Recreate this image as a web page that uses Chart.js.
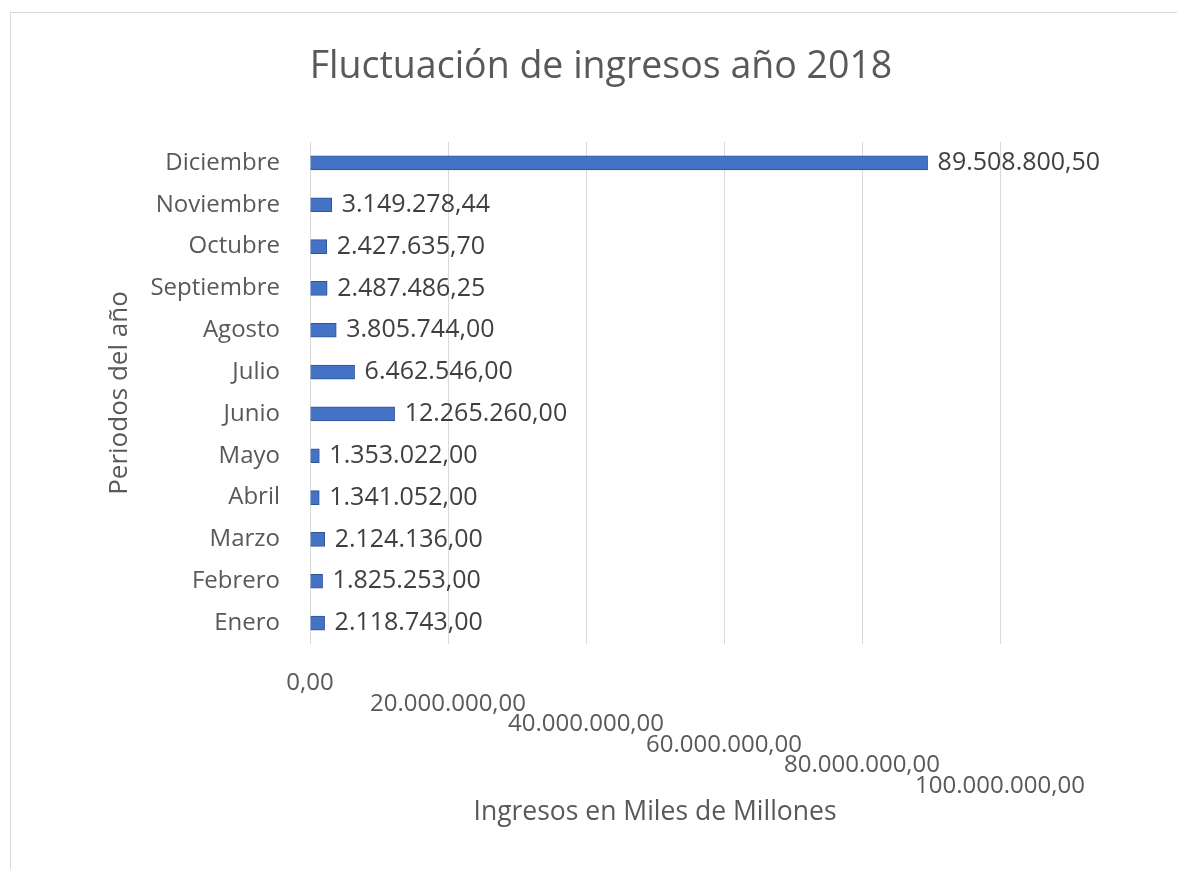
<!DOCTYPE html>
<html>
<head>
<meta charset="utf-8">
<script src="https://cdn.jsdelivr.net/npm/chart.js@4"></script>
<style>
  body { margin: 0; background: #fff; }
  #wrap { position: relative; width: 1177px; height: 869px; overflow: hidden; }
  #frame { position: absolute; left: 10px; top: 12px; right: -2px; bottom: -2px;
           border-top: 1px solid #d9d9d9; border-left: 1px solid #d9d9d9; }
  canvas { position: absolute; left: 0; top: 0; }
</style>
</head>
<body>
<div id="wrap">
  <div id="frame"></div>
  <canvas id="myChart" width="1177" height="869"></canvas>
</div>
<script>
let meses = ['Enero', 'Febrero', 'Marzo', 'Abril', 'Mayo', 'Junio',
  'Julio', 'Agosto', 'Septiembre', 'Octubre', 'Noviembre', 'Diciembre'];

let ingresos = [2118743.00, 1825253.00, 2124136.00, 1341052.00, 1353022.00, 12265260.00,
  6462546.00, 3805744.00, 2487486.25, 2427635.70, 3149278.44, 89508800.50];

let ejeMin = 0;
let ejeMax = 100000000;
let ejePaso = 20000000;

const gris = '#595959';
const fuente = '"Open Sans", "Noto Sans", sans-serif';

// numero con punto de miles y coma decimal
function fmt(v) {
  let parts = v.toFixed(2).split('.');
  return parts[0].replace(/\B(?=(\d{3})+(?!\d))/g, '.') + ',' + parts[1];
}

const barLabels = {
  id: 'barLabels',
  afterDatasetsDraw(chart) {
    const c = chart.ctx;
    const meta = chart.getDatasetMeta(0);
    c.save();
    c.font = '25px ' + fuente;
    c.fillStyle = '#404040';
    c.textBaseline = 'middle';
    c.textAlign = 'left';
    meta.data.forEach((bar, i) => {
      c.fillText(fmt(ingresos[i]), bar.x + 10, bar.y);
    });
    c.restore();
  }
};

var ctx = document.getElementById('myChart').getContext('2d');
var myChart = new Chart(ctx, {
  type: 'bar',
  data: {
    labels: meses,
    datasets: [{
      data: ingresos,
      yAxisID: 'y',
      backgroundColor: '#4472C4',
      borderColor: '#2F5597',
      borderWidth: 1,
      barThickness: 14
    }]
  },
  plugins: [barLabels],
  options: {
    indexAxis: 'y',
    responsive: false,
    animation: false,
    devicePixelRatio: 1,
    layout: { padding: { left: 100, right: 75, top: 0, bottom: 37 } },
    plugins: {
      legend: { display: false },
      tooltip: { enabled: false },
      title: {
        display: true,
        text: 'Fluctuación de ingresos año 2018',
        color: gris,
        font: { family: fuente, size: 37.5, weight: 'normal' },
        padding: { top: 45, bottom: 52 }
      }
    },
    scales: {
      x: {
        min: ejeMin,
        max: ejeMax,
        grid: { color: '#d9d9d9', drawTicks: false },
        border: { display: false },
        ticks: {
          stepSize: ejePaso,
          autoSkip: false,
          maxRotation: 0,
          minRotation: 0,
          padding: 29,
          color: gris,
          font: { family: fuente, size: 24, lineHeight: 0.855 },
          callback: function (value, index) {
            // each label one line lower than the previous (staggered like the original)
            let lines = [];
            for (let i = 0; i < index; i++) lines.push('');
            lines.push(fmt(value));
            return lines;
          }
        },
        title: {
          display: true,
          text: 'Ingresos en Miles de Millones',
          color: gris,
          font: { family: fuente, size: 26.5 }
        },
        afterFit: function (scale) { scale.height = 188; }
      },
      y: {
        reverse: true,
        grid: { display: false, drawTicks: false },
        border: { display: false },
        ticks: {
          padding: 30,
          color: gris,
          font: { family: fuente, size: 24 }
        },
        title: {
          display: true,
          text: 'Periodos del año',
          color: gris,
          font: { family: fuente, size: 26 }
        },
        afterFit: function (scale) { scale.width = 210; }
      },
      // empty space on the right where the last value label sits
      espacio: {
        type: 'linear',
        position: 'right',
        grid: { display: false, drawTicks: false },
        border: { display: false },
        ticks: { display: false },
        afterFit: function (scale) { scale.width = 102; }
      }
    }
  }
});
</script>
</body>
</html>
